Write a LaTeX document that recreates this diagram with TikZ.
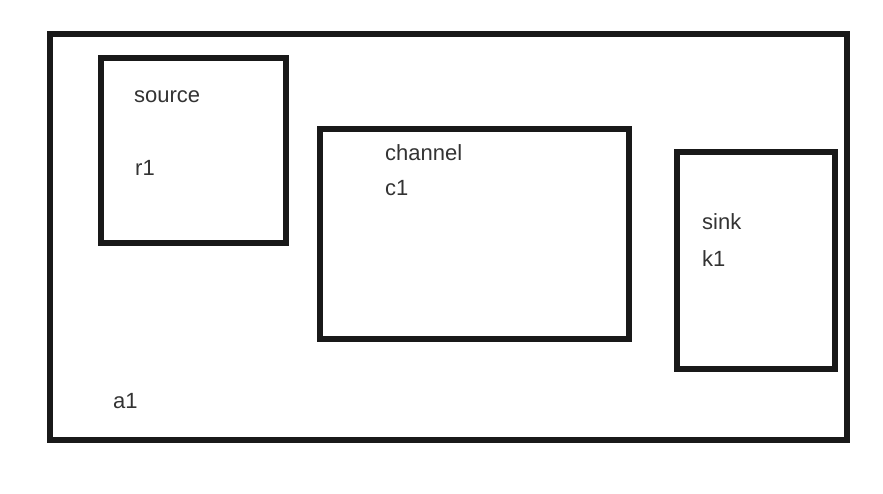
\documentclass[tikz,border=0pt]{standalone}
\usepackage{fontspec}
\setmainfont{Liberation Sans}
\usetikzlibrary{positioning}
\definecolor{txtgray}{HTML}{333333}

\begin{document}
\begin{tikzpicture}[x=1pt, y=-1pt,
    box/.style={draw=black!90, line width=6pt},
    lbl/.style={text=txtgray, inner sep=0pt, anchor=base west, font=\fontsize{22}{26}\selectfont}]
    \useasboundingbox (0,0) rectangle (883,494);

    % Draw boxes
    \draw[box] (50,34) rectangle (847,440);
    \draw[box] (101,58) rectangle (286,243);
    \draw[box] (320,129) rectangle (629,339);
    \draw[box] (677,152) rectangle (835,369);

    % Labels inside the boxes
    \node[lbl] (src) at (134,103) {source};
    \node[lbl] (r1) at (135,176) {r1};
    \node[lbl] (chan) at (385,161) {channel};
    \node[lbl] (c1) at (385,196) {c1};
    \node[lbl] (snk) at (702,230) {sink};
    \node[lbl] (k1) at (702,266) {k1};
    \node[lbl] (a1) at (113,408) {a1};
\end{tikzpicture}
\end{document}
